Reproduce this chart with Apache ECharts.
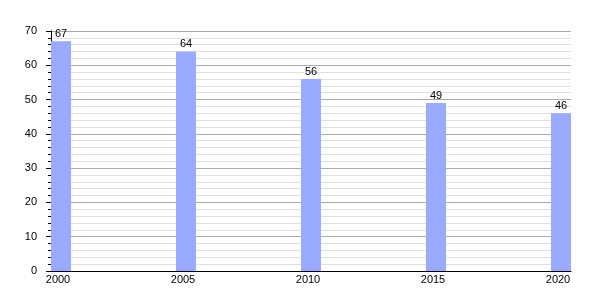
<!DOCTYPE html>
<html><head><meta charset="utf-8">
<script src="https://cdn.jsdelivr.net/npm/echarts@6/dist/echarts.min.js"></script>
<style>html,body{margin:0;padding:0;background:#fff}#c{width:600px;height:300px}</style>
</head><body><div id="c"></div>
<script>
const years = [2000, 2005, 2010, 2015, 2020];
const values = [67, 64, 56, 49, 46];
const yTicks = [0, 10, 20, 30, 40, 50, 60, 70];

const chart = echarts.init(document.getElementById('c'), null, {renderer: 'canvas'});
const font = 'Liberation Sans, Arial, sans-serif';
chart.setOption({
  animation: false,
  grid: {left: 51, right: 29, top: 31, bottom: 29},
  xAxis: {
    type: 'value', min: 1999.6, max: 2020.4,
    axisLine: {show: true, lineStyle: {color: '#000', width: 1}},
    axisTick: {show: false},
    splitLine: {show: false},
    axisLabel: {customValues: years, color: '#000', fontSize: 11, fontFamily: font, margin: 3, padding: [0, 6, 0, 0],
      formatter: v => String(v)}
  },
  yAxis: {
    type: 'value', min: 0, max: 70, interval: 10,
    axisLine: {show: true, lineStyle: {color: '#000', width: 1}},
    axisTick: {show: true, length: 5, lineStyle: {color: '#000'}},
    minorTick: {show: true, splitNumber: 5, length: 3, lineStyle: {color: '#000'}},
    splitLine: {show: true, lineStyle: {color: '#aaa', width: 1}},
    minorSplitLine: {show: true, lineStyle: {color: '#e0e0e0', width: 1}},
    axisLabel: {color: '#000', fontSize: 11, fontFamily: font, margin: 14}
  },
  series: [{
    type: 'bar',
    data: years.map((y, i) => [y, values[i]]),
    barWidth: 20,
    itemStyle: {color: '#99aaff'},
    label: {show: true, position: 'top', distance: 2, color: '#000', fontSize: 11, fontFamily: font}
  }]
});
</script></body></html>
